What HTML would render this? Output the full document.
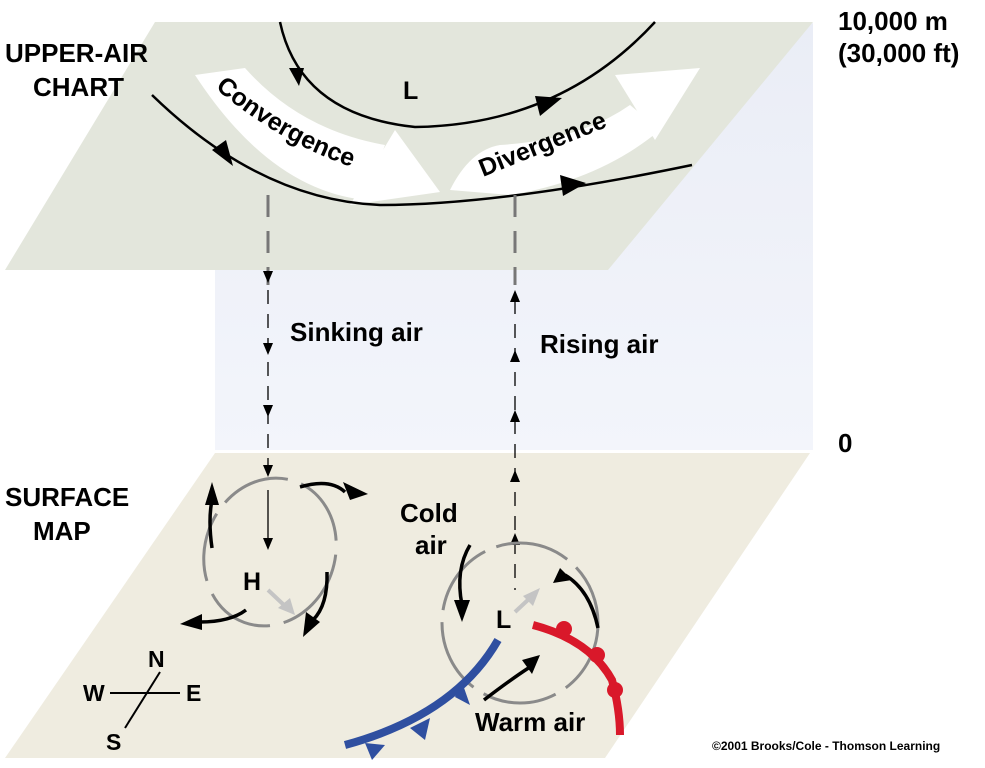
<!DOCTYPE html>
<html><head><meta charset="utf-8"><style>
html,body{margin:0;padding:0;background:#fff;}
svg{display:block;font-family:"Liberation Sans",Arial,sans-serif;font-weight:bold;}
</style></head><body>
<svg width="985" height="768" viewBox="0 0 985 768">
<defs>
<linearGradient id="box" x1="0" y1="0" x2="0" y2="1"><stop offset="0" stop-color="#eaedf6"/><stop offset="1" stop-color="#f3f5fb"/></linearGradient>
<path id="convpath" d="M215,88 Q300,160 400,180"/>
</defs>
<polygon points="215,270 813,23 813,450 215,450" fill="url(#box)"/>
<polygon points="155,22 813,22 608,270 5,270" fill="#e3e6dc"/>
<polygon points="215,453 810,453 605,758 5,758" fill="#efece0"/>

<g fill="#fff">
<path d="M195,75 L245,68 Q300,130 385,145 L365,200 Q270,190 195,75z"/>
<polygon points="395,130 440,192 350,205"/>
</g>
<g fill="#fff">
<path d="M450,190 Q470,150 500,145 Q580,140 630,105 L660,130 Q600,180 510,195 Z"/>
<polygon points="615,75 700,68 655,140"/>
</g>
<text font-size="25" fill="#000"><textPath href="#convpath">Convergence</textPath></text>
<text font-size="25" transform="translate(483,177) rotate(-22)">Divergence</text>

<path d="M280,22 Q300,115 415,127 Q560,125 655,22" fill="none" stroke="#000" stroke-width="2.5"/>
<polygon points="289,68 304,68 299,86" fill="#000"/>
<polygon points="535,96 562,98 540,116" fill="#000"/>
<path d="M152,95 Q260,200 380,205 Q500,205 692,165" fill="none" stroke="#000" stroke-width="2.5"/>
<polygon points="212,150 226,140 233,166" fill="#000"/>
<polygon points="560,175 586,183 563,196" fill="#000"/>
<text x="403" y="99" font-size="25">L</text>

<line x1="268" y1="195" x2="268" y2="285" stroke="#777" stroke-width="3" stroke-dasharray="22,14"/>
<line x1="515" y1="195" x2="515" y2="285" stroke="#777" stroke-width="3" stroke-dasharray="22,14"/>
<line x1="268" y1="290" x2="268" y2="465" stroke="#000" stroke-width="1.3" stroke-dasharray="14,10"/>
<line x1="515" y1="300" x2="515" y2="590" stroke="#000" stroke-width="1.3" stroke-dasharray="14,10"/>
<g fill="#000">
<polygon points="263,271 273,271 268,283"/><polygon points="263,343 273,343 268,355"/><polygon points="263,405 273,405 268,417"/><polygon points="263,465 273,465 268,477"/><polygon points="263,538 273,538 268,550"/>
<line x1="268" y1="490" x2="268" y2="540" stroke="#000" stroke-width="1.3"/>
</g>
<g fill="#000">
<polygon points="510,302 520,302 515,290"/><polygon points="510,362 520,362 515,350"/><polygon points="510,422 520,422 515,410"/><polygon points="510,482 520,482 515,470"/><polygon points="510,545 520,545 515,533"/>
</g>
<text x="290" y="341" font-size="26">Sinking air</text>
<text x="540" y="353" font-size="26">Rising air</text>

<text font-size="26"><tspan x="5" y="62">UPPER-AIR</tspan><tspan x="33" y="96">CHART</tspan></text>
<text font-size="26"><tspan x="5" y="506">SURFACE</tspan><tspan x="33" y="540">MAP</tspan></text>
<text font-size="26"><tspan x="838" y="30">10,000 m</tspan><tspan x="838" y="62">(30,000 ft)</tspan></text>
<text x="838" y="452" font-size="26">0</text>

<g>
<ellipse cx="270" cy="552" rx="65" ry="75" fill="none" stroke="#8a8a8a" stroke-width="3" stroke-dasharray="70,14" transform="rotate(20 270 552)"/>
<text x="243" y="590" font-size="25">H</text>
<line x1="268" y1="590" x2="285" y2="606" stroke="#c4c4c4" stroke-width="4"/>
<polygon points="278,608 295,615 290,598" fill="#c4c4c4"/>
<path d="M212,548 Q208,520 212,500" fill="none" stroke="#000" stroke-width="3.5"/>
<polygon points="205,505 219,505 212,482" fill="#000"/>
<path d="M300,487 Q330,478 345,492" fill="none" stroke="#000" stroke-width="3.5"/>
<polygon points="343,482 350,500 368,494" fill="#000"/>
<path d="M327,572 Q328,605 313,620" fill="none" stroke="#000" stroke-width="3.5"/>
<polygon points="306,612 320,622 303,637" fill="#000"/>
<path d="M246,610 Q230,622 200,622" fill="none" stroke="#000" stroke-width="3.5"/>
<polygon points="202,614 202,630 180,624" fill="#000"/>
</g>

<g>
<ellipse cx="520" cy="623" rx="78" ry="80" fill="none" stroke="#8a8a8a" stroke-width="3" stroke-dasharray="75,12"/>
<text x="496" y="628" font-size="25">L</text>
<line x1="515" y1="612" x2="530" y2="598" stroke="#c4c4c4" stroke-width="4"/>
<polygon points="523,596 540,588 533,606" fill="#c4c4c4"/>
<path d="M470,545 Q455,570 462,605" fill="none" stroke="#000" stroke-width="3.5"/>
<polygon points="454,600 470,600 462,622" fill="#000"/>
<path d="M598,628 Q590,590 565,575" fill="none" stroke="#000" stroke-width="3.5"/>
<polygon points="560,568 572,580 553,583" fill="#000"/>
<path d="M484,700 Q510,680 530,667" fill="none" stroke="#000" stroke-width="3.5"/>
<polygon points="522,660 540,655 532,674" fill="#000"/>
</g>
<g>
<path d="M498,640 Q455,715 345,745" fill="none" stroke="#2f4fa0" stroke-width="8"/>
<polygon points="455,697 470,705 462,682" fill="#2f4fa0"/>
<polygon points="410,728 425,740 430,718" fill="#2f4fa0"/>
<polygon points="365,743 385,745 372,760" fill="#2f4fa0"/>
</g>
<g>
<path d="M533,625 Q590,640 612,680 Q620,710 620,735" fill="none" stroke="#d9182a" stroke-width="8"/>
<circle cx="564" cy="629" r="8" fill="#d9182a"/>
<circle cx="597" cy="655" r="8" fill="#d9182a"/>
<circle cx="615" cy="690" r="8" fill="#d9182a"/>
</g>
<text font-size="26"><tspan x="400" y="522">Cold</tspan><tspan x="415" y="554">air</tspan></text>
<text x="475" y="731" font-size="26">Warm air</text>

<g>
<line x1="160" y1="672" x2="125" y2="728" stroke="#000" stroke-width="2"/>
<line x1="110" y1="693" x2="180" y2="693" stroke="#000" stroke-width="2"/>
<text x="148" y="667" font-size="23">N</text>
<text x="83" y="701" font-size="23">W</text>
<text x="186" y="701" font-size="23">E</text>
<text x="106" y="750" font-size="23">S</text>
</g>
<text x="712" y="750" font-size="12">©2001 Brooks/Cole - Thomson Learning</text>
</svg>
</body></html>
